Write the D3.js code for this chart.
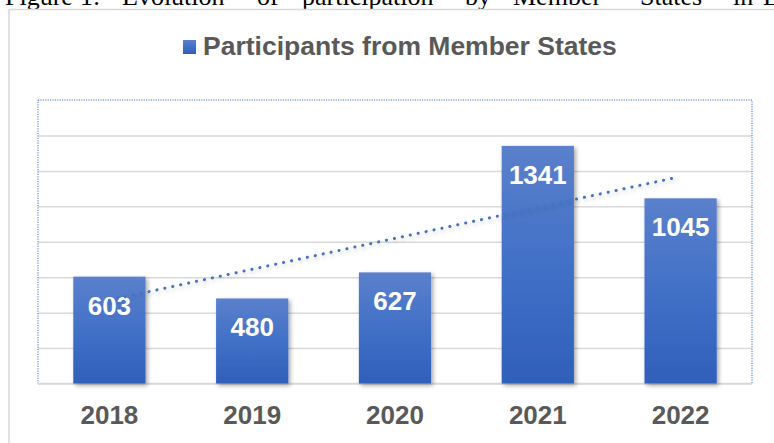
<!DOCTYPE html>
<html>
<head>
<meta charset="utf-8">
<script src="https://cdn.jsdelivr.net/npm/d3@7"></script>
<style>
  html, body { margin: 0; padding: 0; background: #ffffff; overflow: hidden; }
  svg { display: block; }
</style>
</head>
<body>
<script>
// ---- data ----
const years = ["2018", "2019", "2020", "2021", "2022"];
const participants = [603, 480, 627, 1341, 1045];
const yTicks = [0, 200, 400, 600, 800, 1000, 1200, 1400, 1600];
const seriesName = "Participants from Member States";
const captionWords = ["Figure", "1:", "Evolution", "of", "participation", "by", "Member", "States", "in", "EU"];
const captionX = [5, 80, 122, 257, 302, 465, 513, 640, 733, 763];

(function () {
const W = 774, H = 443;
const svg = d3.select("body").append("svg").attr("width", W).attr("height", H);

const defs = svg.append("defs");
const grad = defs.append("linearGradient").attr("id", "barGrad")
  .attr("x1", 0).attr("y1", 0).attr("x2", 0).attr("y2", 1);
grad.append("stop").attr("offset", "0%").attr("stop-color", "#5b80cb");
grad.append("stop").attr("offset", "45%").attr("stop-color", "#4472c8");
grad.append("stop").attr("offset", "100%").attr("stop-color", "#2f5fba");

const sh = defs.append("filter").attr("id", "shadow")
  .attr("x", "-20%").attr("y", "-20%").attr("width", "150%").attr("height", "150%");
sh.append("feDropShadow").attr("dx", 2).attr("dy", 2).attr("stdDeviation", 2)
  .attr("flood-color", "#000").attr("flood-opacity", 0.35);

const glow = defs.append("filter").attr("id", "glow")
  .attr("x", "-10%").attr("y", "-50%").attr("width", "120%").attr("height", "200%");
glow.append("feDropShadow").attr("dx", 1).attr("dy", 2).attr("stdDeviation", 2)
  .attr("flood-color", "#000").attr("flood-opacity", 0.25);

// caption (cut off at top)
svg.append("g").selectAll("text").data(captionWords).join("text")
  .attr("x", (d, i) => captionX[i]).attr("y", 4.5)
  .attr("font-family", "'Liberation Serif', 'Times New Roman', serif")
  .attr("font-size", 26).attr("fill", "#000")
  .text(d => d);

// outer chart frame
svg.append("rect").attr("x", 9).attr("y", 9.5).attr("width", 820).attr("height", 500)
  .attr("fill", "#fff").attr("stroke", "#d9d9d9").attr("stroke-width", 1.5);

// scales
const pLeft = 38, pRight = 752, pTop = 100, pBottom = 383.5;
const x = d3.scaleBand().domain(years).range([pLeft, pRight]).paddingInner(0.494).paddingOuter(0.247);
const y = d3.scaleLinear().domain([0, 1600]).range([pBottom, pTop]);

// gridlines
const grid = d3.axisLeft(y).tickValues(yTicks.filter(t => t < 1600)).tickSize(-(pRight - pLeft)).tickFormat("");
const gg = svg.append("g").attr("transform", `translate(${pLeft},0)`).call(grid);
gg.select(".domain").remove();
gg.selectAll(".tick line").attr("stroke", "#d9d9d9").attr("stroke-width", 1.5);

// plot area dotted border
svg.append("rect").attr("x", pLeft).attr("y", pTop).attr("width", pRight - pLeft).attr("height", pBottom - pTop)
  .attr("fill", "none").attr("stroke", "#4472c4").attr("stroke-width", 1)
  .attr("stroke-dasharray", "1.2 1.2");
// baseline
svg.append("line").attr("x1", pLeft).attr("x2", pRight).attr("y1", y(0)).attr("y2", y(0))
  .attr("stroke", "#d9d9d9").attr("stroke-width", 1.5);

// bars
svg.append("g").selectAll("rect").data(participants).join("rect")
  .attr("x", (d, i) => x(years[i]))
  .attr("y", d => y(d))
  .attr("width", x.bandwidth())
  .attr("height", d => y(0) - y(d))
  .attr("fill", "url(#barGrad)")
  .attr("filter", "url(#shadow)");

// data labels
svg.append("g").selectAll("text").data(participants).join("text")
  .attr("x", (d, i) => x(years[i]) + x.bandwidth() / 2)
  .attr("y", d => y(d) + 38)
  .attr("text-anchor", "middle")
  .attr("font-family", "'Liberation Sans', Arial, sans-serif")
  .attr("font-weight", "bold").attr("font-size", 26).attr("fill", "#ffffff")
  .text(d => d);

// linear trendline (least squares of the series)
const n = participants.length;
const xs = d3.range(n);
const mx = d3.mean(xs), my = d3.mean(participants);
const slope = d3.sum(xs, i => (i - mx) * (participants[i] - my)) / d3.sum(xs, i => (i - mx) ** 2);
const icpt = my - slope * mx;
const cx = i => x(years[i]) + x.bandwidth() / 2;
svg.append("line")
  .attr("x1", cx(0)).attr("y1", y(icpt))
  .attr("x2", cx(n - 1) - 5).attr("y2", y(icpt + slope * (n - 1 - 5 / x.step())))
  .attr("stroke", "#4472c4").attr("stroke-width", 3)
  .attr("stroke-linecap", "round").attr("stroke-dasharray", "0.1 8")
  .attr("filter", "url(#glow)");

// x axis labels
svg.append("g").selectAll("text").data(years).join("text")
  .attr("x", d => x(d) + x.bandwidth() / 2)
  .attr("y", 424)
  .attr("text-anchor", "middle")
  .attr("font-family", "'Liberation Sans', Arial, sans-serif")
  .attr("font-weight", "bold").attr("font-size", 26).attr("fill", "#595959")
  .text(d => d);

// legend / title
svg.append("rect").attr("x", 183).attr("y", 40).attr("width", 13).attr("height", 14)
  .attr("fill", "url(#barGrad)");
svg.append("text").attr("x", 203).attr("y", 55)
  .attr("font-family", "'Liberation Sans', Arial, sans-serif")
  .attr("font-weight", "bold").attr("font-size", 26.5).attr("fill", "#595959")
  .text(seriesName);
})();
</script>
</body>
</html>
